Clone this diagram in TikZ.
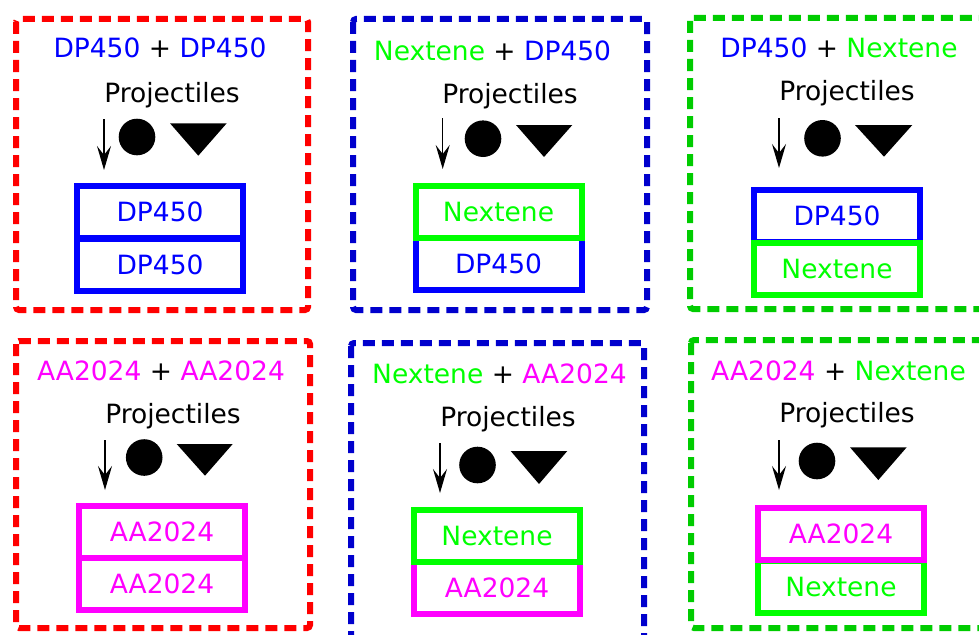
\documentclass[tikz,border=0pt]{standalone}
\usepackage{fontspec}
\setmainfont{DejaVu Sans}
\usetikzlibrary{arrows.meta}

\definecolor{dpblue}{RGB}{0,0,255}
\definecolor{nxgreen}{RGB}{0,255,0}
\definecolor{aamagenta}{RGB}{255,0,255}
\definecolor{framered}{RGB}{255,0,0}
\definecolor{frameblue}{RGB}{0,0,205}
\definecolor{framegreen}{RGB}{0,204,0}

\tikzset{
  panelframe/.style={line width=6pt, dash pattern=on 12pt off 7pt, rounded corners=3pt},
  layer/.style={draw, line width=6pt, minimum width=166pt, minimum height=52.5pt, inner sep=0pt},
  heading/.style={anchor=base},
  shot/.style={-{Stealth[length=24pt,width=14pt,inset=9pt]}, line width=1.5pt},
}

\begin{document}
\begin{tikzpicture}[x=1pt,y=-1pt,font=\fontsize{26.5}{30}\selectfont]
    \useasboundingbox (0,0) rectangle (979,634);

    % Panel 1: DP450 + DP450
    \draw[panelframe, framered] (16,19) rectangle (308,310);
    \node[heading] (title1) at (160,58) {\textcolor{dpblue}{DP450} + \textcolor{dpblue}{DP450}};
    \node[heading] (proj1) at (172,102) {Projectiles};
    \coordinate (shotA1) at (104,119);
    \coordinate (shotB1) at (104,170);
    \draw[shot] (shotA1) -- (shotB1);
    \fill (137,137) circle[radius=18.3pt];
    \fill (170,123.3) -- (226.7,123.3) -- (198.3,155.7) -- cycle;
    \node[layer, dpblue] (bot1) at (160,265) {DP450};
    \node[layer, dpblue] (top1) at (160,212) {DP450};

    % Panel 2: Nextene + DP450
    \draw[panelframe, frameblue] (353,19) rectangle (647,310);
    \node[heading] (title2) at (492.5,60) {\textcolor{nxgreen}{Nextene} + \textcolor{dpblue}{DP450}};
    \node[heading] (proj2) at (510,103) {Projectiles};
    \coordinate (shotA2) at (442.7,118);
    \coordinate (shotB2) at (442.7,169);
    \draw[shot] (shotA2) -- (shotB2);
    \fill (483,138.7) circle[radius=18.3pt];
    \fill (516,125) -- (572.3,125) -- (544,157) -- cycle;
    \node[layer, dpblue] (bot2) at (498.5,264) {DP450};
    \node[layer, nxgreen] (top2) at (498.5,212) {Nextene};

    % Panel 3: DP450 + Nextene
    \draw[panelframe, framegreen] (690,18) rectangle (990,309);
    \node[heading] (title3) at (839,57) {\textcolor{dpblue}{DP450} + \textcolor{nxgreen}{Nextene}};
    \node[heading] (proj3) at (847,100) {Projectiles};
    \coordinate (shotA3) at (779,118);
    \coordinate (shotB3) at (779,168);
    \draw[shot] (shotA3) -- (shotB3);
    \fill (822.5,138.3) circle[radius=18.3pt];
    \fill (855,125) -- (912.3,125) -- (884,156.7) -- cycle;
    \node[layer, dpblue] (top3) at (837,216) {DP450};
    \node[layer, nxgreen] (bot3) at (837,269) {Nextene};

    % Panel 4: AA2024 + AA2024
    \draw[panelframe, framered] (16,341) rectangle (310,628);
    \node[heading] (title4) at (161,380) {\textcolor{aamagenta}{AA2024} + \textcolor{aamagenta}{AA2024}};
    \node[heading] (proj4) at (173,423) {Projectiles};
    \coordinate (shotA4) at (105,440);
    \coordinate (shotB4) at (105,490);
    \draw[shot] (shotA4) -- (shotB4);
    \fill (144.2,457.5) circle[radius=18.3pt];
    \fill (176.7,444) -- (232.7,444) -- (205,475.7) -- cycle;
    \node[layer, aamagenta] (bot4) at (162,584) {AA2024};
    \node[layer, aamagenta] (top4) at (162,532) {AA2024};

    % Panel 5: Nextene + AA2024
    \draw[panelframe, frameblue] (351,343) rectangle (644,645);
    \node[heading] (title5) at (499.5,383) {\textcolor{nxgreen}{Nextene} + \textcolor{aamagenta}{AA2024}};
    \node[heading] (proj5) at (508,426) {Projectiles};
    \coordinate (shotA5) at (440,443);
    \coordinate (shotB5) at (440,493);
    \draw[shot] (shotA5) -- (shotB5);
    \fill (477.5,465) circle[radius=18.3pt];
    \fill (510.7,451) -- (567.3,451) -- (539,484) -- cycle;
    \node[layer, aamagenta] (bot5) at (497,588) {AA2024};
    \node[layer, nxgreen] (top5) at (497,536) {Nextene};

    % Panel 6: AA2024 + Nextene
    \draw[panelframe, framegreen] (691,340) rectangle (990,628);
    \node[heading] (title6) at (838.5,380) {\textcolor{aamagenta}{AA2024} + \textcolor{nxgreen}{Nextene}};
    \node[heading] (proj6) at (847,422) {Projectiles};
    \coordinate (shotA6) at (779,440);
    \coordinate (shotB6) at (779,490);
    \draw[shot] (shotA6) -- (shotB6);
    \fill (817,461) circle[radius=18.3pt];
    \fill (850,447.3) -- (906.7,447.3) -- (878.3,480) -- cycle;
    \node[layer, nxgreen] (bot6) at (841,587) {Nextene};
    \node[layer, aamagenta] (top6) at (841,534) {AA2024};

\end{tikzpicture}
\end{document}
